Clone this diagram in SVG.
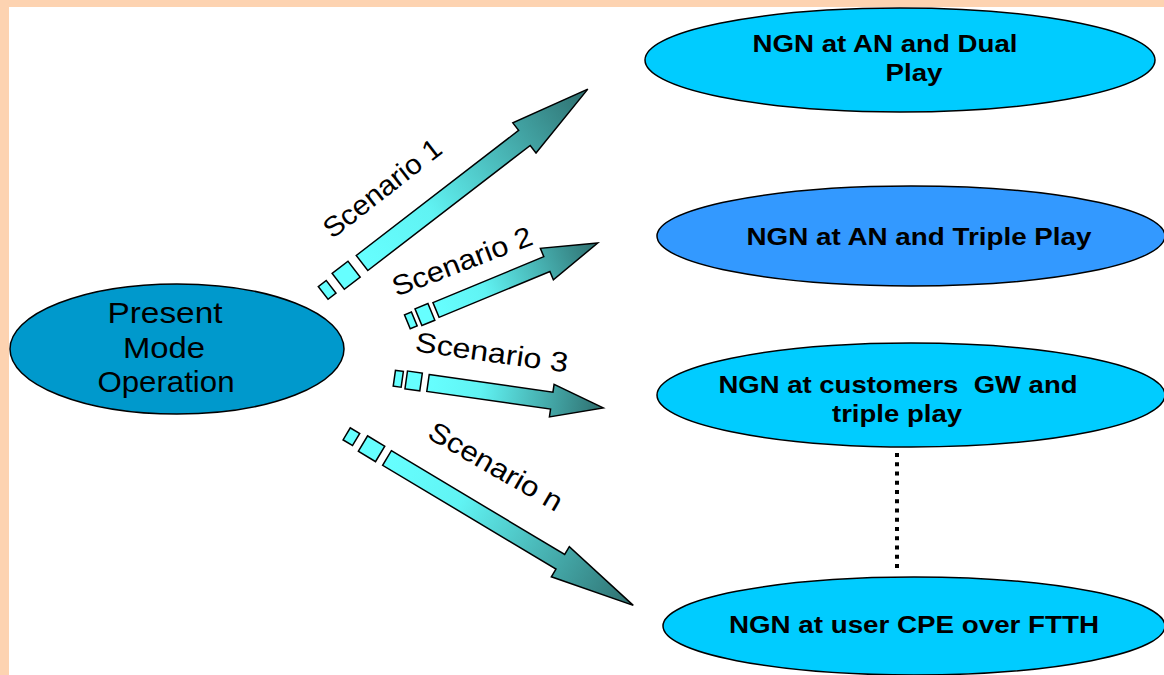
<svg xmlns="http://www.w3.org/2000/svg" width="1164" height="675" viewBox="0 0 1164 675">
<defs>
<linearGradient id="arrowGrad" x1="0" y1="0" x2="1" y2="0">
<stop offset="0" stop-color="#66FFFF"/>
<stop offset="0.3" stop-color="#60F3F3"/>
<stop offset="1" stop-color="#2E6E6E"/>
</linearGradient>
</defs>
<style>
.frame{fill:#FDD3B1}
.node{stroke:#000;stroke-width:1.5}
.light{fill:#00CCFF}
.mid{fill:#3399FF}
.base{fill:#0099CC}
.arrow{fill:url(#arrowGrad);stroke:#000;stroke-width:1.5;stroke-linejoin:miter}
.blk{fill:#66FFFF;stroke:#000;stroke-width:1.5}
.lbl{font-family:"Liberation Sans",Arial,sans-serif;font-size:28px;fill:#000;text-anchor:middle}
.pm{font-family:"Liberation Sans",Arial,sans-serif;font-size:30px;fill:#000;text-anchor:middle}
.ngn{font-family:"Liberation Sans",Arial,sans-serif;font-size:24px;font-weight:bold;fill:#000;text-anchor:middle}
.dots{stroke:#000;stroke-width:4;stroke-dasharray:4 5.25;fill:none}
</style>
<rect width="1164" height="675" fill="#FFFFFF"/>
<rect class="frame" x="0" y="0" width="1164" height="7"/>
<rect class="frame" x="0" y="0" width="9" height="675"/>

<g id="connectors">
<g id="arrow1" transform="translate(362,263) rotate(-37.6)">
<rect class="blk" x="-49" y="-8" width="10" height="16"/>
<rect class="blk" x="-30" y="-10" width="20" height="20"/>
<path class="arrow" d="M0,-9.5 L205,-9.5 L205,-19 L285,0 L205,19 L205,9.5 L0,9.5 Z"/>
</g>
<g id="arrow2" transform="translate(436,310) rotate(-22.5)">
<rect class="blk" x="-31" y="-7.5" width="7.5" height="15"/>
<rect class="blk" x="-19" y="-9" width="14" height="18"/>
<path class="arrow" d="M0,-8 L120,-8 L120,-17 L175,0 L120,17 L120,8 L0,8 Z"/>
</g>
<g id="arrow3" transform="translate(428,383) rotate(8.1)">
<rect class="blk" x="-34" y="-8" width="8" height="16"/>
<rect class="blk" x="-22" y="-9" width="15" height="18"/>
<path class="arrow" d="M0,-8.5 L125,-8.5 L125,-16.5 L177,0 L125,16.5 L125,8.5 L0,8.5 Z"/>
</g>
<g id="arrowN" transform="translate(387,458) rotate(30.9)">
<rect class="blk" x="-47" y="-7" width="11" height="14"/>
<rect class="blk" x="-28" y="-9" width="20" height="18"/>
<path class="arrow" d="M0,-8.5 L202,-8.5 L202,-17.5 L287,0 L202,17.5 L202,8.5 L0,8.5 Z"/>
</g>
<line id="dotted" class="dots" x1="897" y1="453" x2="897" y2="568"/>
</g>

<g id="labels">
<text class="lbl" transform="translate(382,188) rotate(-38)" x="0" y="10" textLength="142" lengthAdjust="spacingAndGlyphs">Scenario 1</text>
<text class="lbl" transform="translate(462,261) rotate(-21)" x="0" y="10" textLength="148" lengthAdjust="spacingAndGlyphs">Scenario 2</text>
<text class="lbl" transform="translate(492,352) rotate(8)" x="0" y="10" textLength="154" lengthAdjust="spacingAndGlyphs">Scenario 3</text>
<text class="lbl" transform="translate(496,466) rotate(30)" x="0" y="10" textLength="150" lengthAdjust="spacingAndGlyphs">Scenario n</text>
</g>

<g id="node-present">
<ellipse class="node base" cx="177" cy="349" rx="167" ry="65"/>
<text class="pm" x="165" y="323" textLength="115" lengthAdjust="spacingAndGlyphs">Present</text>
<text class="pm" x="164" y="358" textLength="82" lengthAdjust="spacingAndGlyphs">Mode</text>
<text class="pm" x="166" y="392" textLength="137" lengthAdjust="spacingAndGlyphs">Operation</text>
</g>

<g id="node-dual">
<ellipse class="node light" cx="900" cy="60" rx="255" ry="52"/>
<text class="ngn" x="885" y="52" textLength="265" lengthAdjust="spacingAndGlyphs">NGN at AN and Dual</text>
<text class="ngn" x="914" y="81" textLength="57" lengthAdjust="spacingAndGlyphs">Play</text>
</g>

<g id="node-triple">
<ellipse class="node mid" cx="911" cy="236" rx="254" ry="50"/>
<text class="ngn" x="919" y="245" textLength="345" lengthAdjust="spacingAndGlyphs">NGN at AN and Triple Play</text>
</g>

<g id="node-gw">
<ellipse class="node light" cx="911" cy="395" rx="254" ry="52"/>
<text class="ngn" x="898" y="393" textLength="359" lengthAdjust="spacingAndGlyphs" xml:space="preserve">NGN at customers  GW and</text>
<text class="ngn" x="897" y="422" textLength="130" lengthAdjust="spacingAndGlyphs">triple play</text>
</g>

<g id="node-ftth">
<ellipse class="node light" cx="914" cy="626" rx="251" ry="49"/>
<text class="ngn" x="914" y="633" textLength="370" lengthAdjust="spacingAndGlyphs">NGN at user CPE over FTTH</text>
</g>
</svg>
